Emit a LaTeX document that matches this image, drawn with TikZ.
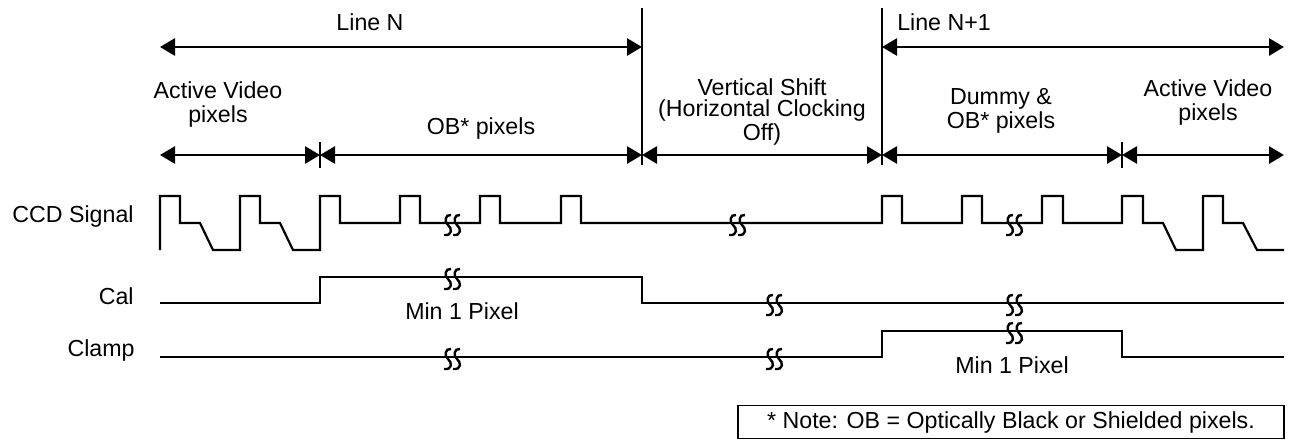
\documentclass[tikz,border=0pt]{standalone}
\usepackage{fontspec}
\newfontfamily\arialw{Liberation Sans}
\usepackage{tikz}
\usetikzlibrary{arrows.meta,positioning}

\begin{document}
\begin{tikzpicture}[
  x=0.5pt, y=-0.5pt,
  lbl/.style={font=\arialw\fontsize{11.6}{12}\selectfont, align=center, inner sep=0pt},
  sig/.style={font=\arialw\fontsize{11.6}{12}\selectfont, anchor=east, inner sep=0pt},
  arr/.style={{Triangle[length=7.5pt,width=8.5pt]}-{Triangle[length=7.5pt,width=8.5pt]}, line width=1.4pt},
  vline/.style={line width=0.8pt},
  wave/.style={line width=1.1pt, line join=miter},
  brkmark/.pic={
    \draw[line width=1.2pt] (0,-8) .. controls (-6,-9) and (-7,-1) .. (-3,2)
      .. controls (1,5) and (2,13) .. (-7,12);
    \draw[line width=1.2pt] (9,-8) .. controls (3,-9) and (2,-1) .. (6,2)
      .. controls (10,5) and (11,13) .. (2,12);
  },
]
  \useasboundingbox (0,0) rectangle (1296,440);

  % line boundaries
  \coordinate (n0) at (160,47);
  \coordinate (n1) at (642,47);
  \coordinate (m0) at (882,47);
  \coordinate (m1) at (1284,47);
  \coordinate (s0) at (160,155);
  \coordinate (s1) at (320,155);
  \coordinate (s2) at (642,155);
  \coordinate (s3) at (882,155);
  \coordinate (s4) at (1122,155);
  \coordinate (s5) at (1284,155);

  \draw[vline] (642,8) -- (642,165);
  \draw[vline] (882,8) -- (882,165);
  \draw[vline] (320,142) -- (320,168);
  \draw[vline] (1122,142) -- (1122,168);

  \draw[arr] (n0) -- (n1);
  \draw[arr] (m0) -- (m1);
  \draw[arr] (s0) -- (s1);
  \draw[arr] (s1) -- (s2);
  \draw[arr] (s2) -- (s3);
  \draw[arr] (s3) -- (s4);
  \draw[arr] (s4) -- (s5);

  \node[lbl] (lineN)  at (370,22) {Line N};
  \node[lbl] (lineN1) at (944,22) {Line N+1};
  \node[lbl] (av1) at (218,104) {Active Video\\pixels};
  \node[lbl] (ob)  at (481,128) {OB* pixels};
  \node[lbl, font=\arialw\fontsize{11.6}{10.5}\selectfont] (vs) at (762,112)
    {Vertical Shift\\(Horizontal Clocking\\Off)};
  \node[lbl] (dob) at (1001,111) {Dummy \&\\OB* pixels};
  \node[lbl] (av2) at (1208,102) {Active Video\\pixels};

  % signal names
  \node[sig] (ccd)   at (134,216) {CCD Signal};
  \node[sig] (cal)   at (134,296) {Cal};
  \node[sig] (clamp) at (135,350) {Clamp};

  % CCD signal
  \draw[wave] (160,250) -- (160,196) -- (180,196) -- (180,223) -- (200,223)
    -- (213,250) -- (240,250) -- (240,196) -- (260,196) -- (260,223)
    -- (280,223) -- (293,250) -- (320,250) -- (320,196) -- (340,196)
    -- (340,223) -- (400,223) -- (400,196) -- (420,196) -- (420,223)
    -- (480,223) -- (480,196) -- (500,196) -- (500,223) -- (561,223)
    -- (561,196) -- (581,196) -- (581,223) -- (882,223) -- (882,196)
    -- (902,196) -- (902,223) -- (962,223) -- (962,196) -- (982,196)
    -- (982,223) -- (1042,223) -- (1042,196) -- (1063,196) -- (1063,223)
    -- (1122,223) -- (1122,196) -- (1143,196) -- (1143,223) -- (1163,223)
    -- (1176,250) -- (1203,250) -- (1203,196) -- (1223,196) -- (1223,223)
    -- (1243,223) -- (1257,250) -- (1284,250);
  % Cal
  \draw[wave] (160,303) -- (320,303) -- (320,277) -- (642,277) -- (642,303)
    -- (1284,303);
  % Clamp
  \draw[wave] (160,357) -- (882,357) -- (882,331) -- (1122,331) -- (1122,357)
    -- (1284,357);

  % breaks
  \pic at (451,223) {brkmark};
  \pic at (736,223) {brkmark};
  \pic at (1013,223) {brkmark};
  \pic at (451,277) {brkmark};
  \pic at (773,303) {brkmark};
  \pic at (1013,303) {brkmark};
  \pic at (451,357) {brkmark};
  \pic at (773,357) {brkmark};
  \pic at (1013,331) {brkmark};

  \node[lbl] (min1) at (462,311) {Min 1 Pixel};
  \node[lbl] (min2) at (1012,365) {Min 1 Pixel};

  \node[lbl, draw, line width=0.8pt, minimum width=273pt, minimum height=16.5pt]
    (note) at (1011,422) {* Note: OB = Optically Black or Shielded pixels.};
\end{tikzpicture}
\end{document}
